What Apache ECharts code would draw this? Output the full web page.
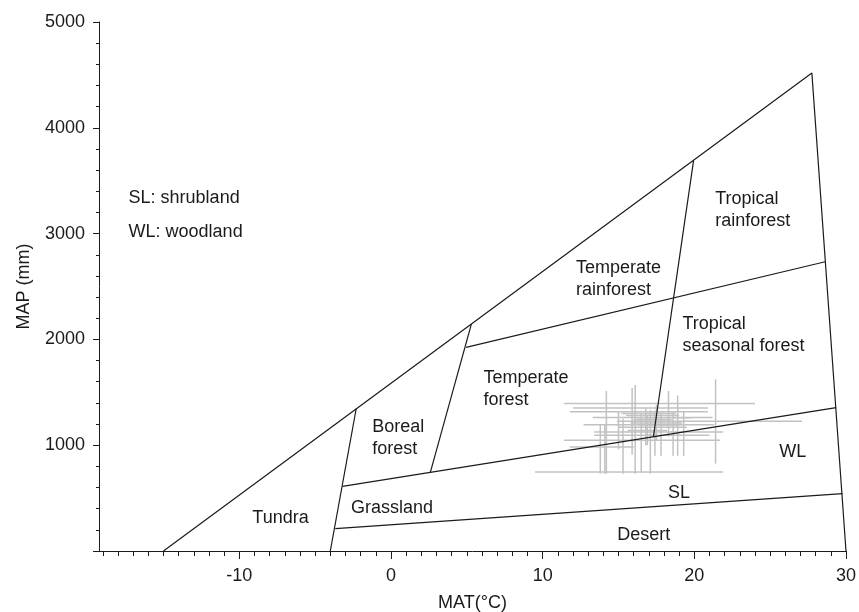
<!DOCTYPE html>
<html>
<head>
<meta charset="utf-8">
<script src="https://cdn.jsdelivr.net/npm/echarts@6/dist/echarts.min.js"></script>
<style>
  html, body { margin: 0; padding: 0; background: #fff; }
  #chart { width: 859px; height: 612px; }
</style>
</head>
<body>
<div id="chart"></div>
<script>
// biome boundaries, MAT (°C) vs MAP (mm)
const outerBoundary = [[-15, 0], [27.75, 4517], [30, 0]];
const tundraLine = [[-4, 0], [-2.29, 1347]];
const desertLine = [[-3.67, 211], [29.77, 542]];
const grasslandLine = [[-3.2, 611], [29.35, 1356]];
const borealLine = [[2.59, 741], [5.3, 2145]];
const rainforestLine = [[4.95, 1924], [28.63, 2734]];
const tropicalLine = [[19.95, 3690], [17.3, 1080]];

// region names and where their text starts
const biomeNames = ['Tundra', 'Boreal\nforest', 'Grassland', 'Temperate\nforest', 'Temperate\nrainforest',
  'Tropical\nrainforest', 'Tropical\nseasonal forest', 'WL', 'SL', 'Desert', 'SL: shrubland', 'WL: woodland'];
const biomeX = [-9.14, -1.23, -2.64, 6.1, 12.2, 21.38, 19.22, 25.6, 18.26, 14.92, -17.3, -17.3];
const biomeY = [310, 1071, 405, 1530, 2566, 3224, 2046, 935, 545, 154, 3336, 3014];

// sites with MAT / MAP ranges
const mat =   [21.4, 16.1, 15.9, 14.2, 18.3, 13.8, 15.3, 17.1, 14.1, 15.0, 16.5, 17.4, 17.8, 18.6, 18.9, 19.3, 16.8, 17.5, 16.9];
const matLo = [11.4, 12.0, 11.8, 13.3, 14.9, 12.7, 13.4, 13.4, 11.4, 11.8, 9.5, 15.5, 16.0, 15.0, 15.8, 16.2, 15.2, 16.3, 15.6];
const matHi = [24.0, 20.9, 20.9, 21.2, 27.1, 21.3, 21.9, 21.0, 21.7, 16.0, 21.9, 19.0, 18.5, 19.5, 19.2, 19.8, 18.8, 19.0, 18.2];
const map =   [1394, 1352, 1315, 1262, 1227, 1194, 1125, 1094, 1047, 983, 747, 1280, 1240, 1170, 1210, 1260, 1300, 1190, 1140];
const mapLo = [826, 731, 910, 731, 1078, 731, 731, 731, 731, 960, 740, 900, 900, 900, 900, 900, 1000, 1050, 1000];
const mapHi = [1624, 1570, 1540, 1513, 1513, 1200, 1250, 1330, 1200, 1320, 1300, 1320, 1310, 1320, 1470, 1320, 1350, 1380, 1290];

const majorX = [-10, 0, 10, 20, 30];
const minorX = [];
for (let v = -19; v <= 30; v++) if (v % 10 !== 0) minorX.push(v);

const ink = '#1c1a1b';
const font = "'Liberation Sans', Arial, sans-serif";

const chart = echarts.init(document.getElementById('chart'), null, { renderer: 'canvas' });

function boundary(points) {
  return {
    type: 'line',
    data: points,
    symbol: 'none',
    silent: true,
    z: 3,
    lineStyle: { color: ink, width: 1.2 }
  };
}

const sites = mat.map((m, i) => [m, map[i], matLo[i], matHi[i], mapLo[i], mapHi[i]]);

chart.setOption({
  animation: false,
  backgroundColor: '#fff',
  grid: { left: 99, right: 13, top: 22, bottom: 61, containLabel: false, outerBoundsMode: 'none' },
  xAxis: [{
    type: 'value',
    min: -19.25,
    max: 30,
    name: 'MAT(°C)',
    nameLocation: 'middle',
    nameGap: 43,
    nameTextStyle: { fontFamily: font, fontSize: 18, color: ink },
    axisLine: { show: true, onZero: false, lineStyle: { color: ink, width: 1 } },
    axisTick: { show: true, customValues: majorX, length: 8, lineStyle: { color: ink } },
    axisLabel: { customValues: majorX, fontFamily: font, fontSize: 18, color: ink, margin: 16 },
    splitLine: { show: false }
  }, {
    type: 'value',
    min: -19.25,
    max: 30,
    position: 'bottom',
    axisLine: { show: false, onZero: false },
    axisTick: { show: true, customValues: minorX, length: 5, lineStyle: { color: ink } },
    axisLabel: { show: false },
    splitLine: { show: false }
  }],
  yAxis: {
    type: 'value',
    min: 0,
    max: 5000,
    interval: 1000,
    name: 'MAP (mm)',
    nameLocation: 'middle',
    nameGap: 66,
    nameTextStyle: { fontFamily: font, fontSize: 18, color: ink },
    axisLine: { show: true, onZero: false, lineStyle: { color: ink, width: 1 } },
    axisTick: { show: true, length: 6, lineStyle: { color: ink } },
    minorTick: { show: true, splitNumber: 5, length: 3, lineStyle: { color: ink } },
    axisLabel: { showMinLabel: false, formatter: v => String(v), fontFamily: font, fontSize: 18, color: ink, margin: 14 },
    splitLine: { show: false }
  },
  series: [
    {
      type: 'custom',
      data: sites,
      z: 2,
      silent: true,
      encode: { x: [0, 2, 3], y: [1, 4, 5] },
      renderItem: function (params, api) {
        const x = api.value(0), y = api.value(1);
        const h1 = api.coord([api.value(2), y]);
        const h2 = api.coord([api.value(3), y]);
        const v1 = api.coord([x, api.value(4)]);
        const v2 = api.coord([x, api.value(5)]);
        const style = { stroke: '#c2c2c2', lineWidth: 1.5 };
        return {
          type: 'group',
          children: [
            { type: 'line', shape: { x1: h1[0], y1: h1[1], x2: h2[0], y2: h2[1] }, style: style },
            { type: 'line', shape: { x1: v1[0], y1: v1[1], x2: v2[0], y2: v2[1] }, style: style }
          ]
        };
      }
    },
    boundary(outerBoundary),
    boundary(tundraLine),
    boundary(desertLine),
    boundary(grasslandLine),
    boundary(borealLine),
    boundary(rainforestLine),
    boundary(tropicalLine),
    {
      type: 'scatter',
      symbolSize: 0,
      silent: true,
      z: 4,
      itemStyle: { opacity: 1 },
      data: biomeNames.map((n, i) => ({ name: n, value: [biomeX[i], biomeY[i]] })),
      label: {
        show: true,
        position: 'right',
        distance: 0,
        formatter: '{b}',
        fontFamily: font,
        fontSize: 18,
        lineHeight: 22,
        color: ink,
        opacity: 1,
        align: 'left'
      }
    }
  ]
});
</script>
</body>
</html>
